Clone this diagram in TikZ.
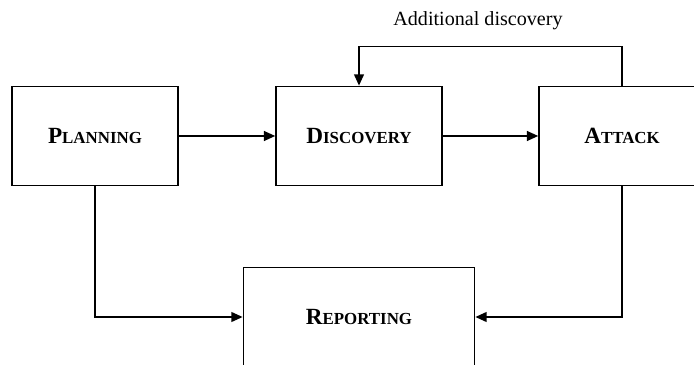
\documentclass[tikz,border=0pt]{standalone}
\usepackage{fontspec}
\setmainfont{Liberation Serif}
\usetikzlibrary{arrows.meta}

% fake small caps: big first letter, smaller rest
\newcommand{\stagename}[2]{\textbf{{\fontsize{16.5}{18}\selectfont #1}{\fontsize{12}{14}\selectfont #2}}}

\begin{document}
\begin{tikzpicture}[x=0.025cm,y=-0.025cm,
        stage/.style={draw,line width=1.1pt,minimum width=4.15cm,minimum height=2.48cm,inner sep=0pt},
        flow/.style={line width=1.1pt,-{Triangle[length=8pt,width=7pt]}}]

        \useasboundingbox (0,0) rectangle (694,365);
        \clip (0,0) rectangle (694,365);

        % the four stages
        \node[stage] (planning)  at (95,136)  {\stagename{P}{LANNING}};
        \node[stage] (discovery) at (359,136) {\stagename{D}{ISCOVERY}};
        \node[stage] (attack)    at (622,136) {\stagename{A}{TTACK}};
        \node[stage,minimum width=5.78cm] (reporting) at (359,317) {\stagename{R}{EPORTING}};

        \node (extra) at (478,21) {\fontsize{14.3}{16}\selectfont Additional discovery};

        % main flow
        \draw[flow] (planning) -- (discovery);
        \draw[flow] (discovery) -- (attack);

        % feedback loop
        \draw[flow] (attack.north) -- ++(0,-39) -| (discovery.north);

        % into reporting
        \draw[flow] (planning.south) |- (reporting.west);
        \draw[flow] (attack.south) |- (reporting.east);

\end{tikzpicture}
\end{document}
